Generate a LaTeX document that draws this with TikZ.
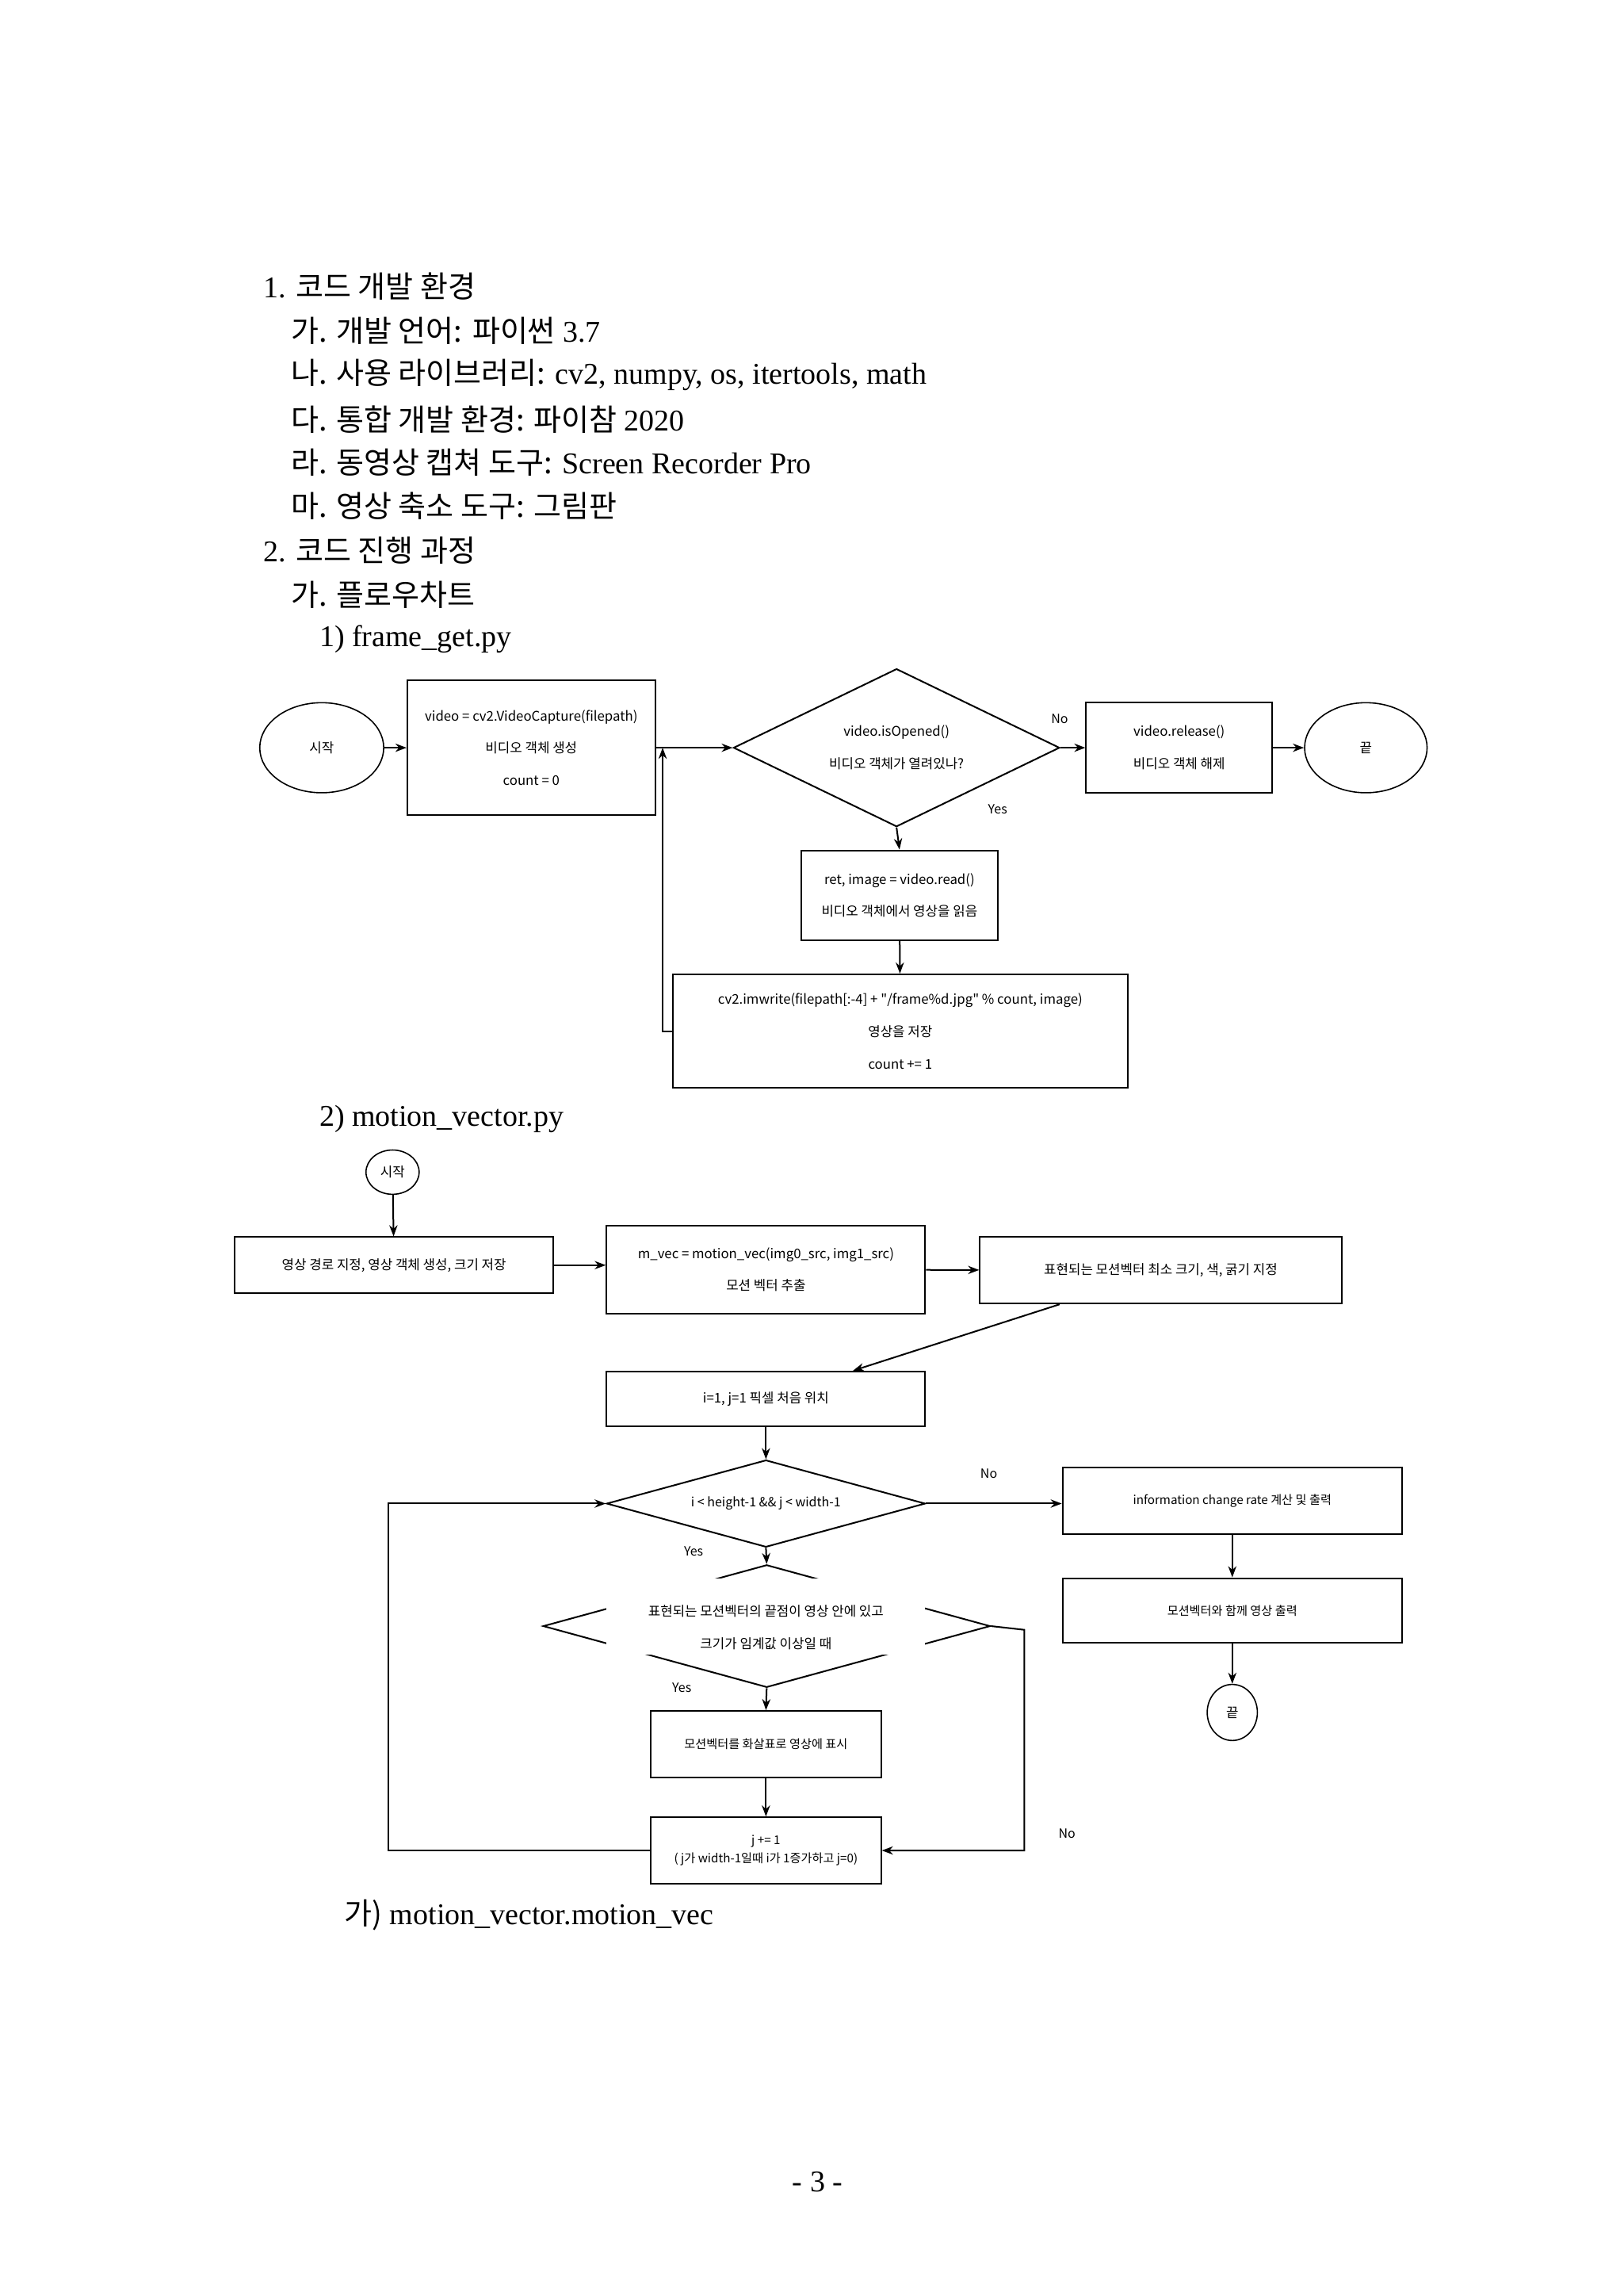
\documentclass[tikz,border=0pt]{standalone}
\usepackage{fontspec}
\setmainfont{Liberation Serif}
\newfontfamily\kr{Noto Sans CJK KR}
\usetikzlibrary{shapes.geometric,arrows.meta,calc}
\begin{document}
\begin{tikzpicture}[x=0.4655pt,y=-0.4655pt,
  body/.style={anchor=west,inner sep=0,font=\fontsize{9.5}{12}\selectfont},
  box/.style={draw,line width=0.5pt,inner sep=0,align=center,font=\kr\fontsize{4.2}{10.2}\selectfont},
  dia/.style={draw,diamond,line width=0.5pt,inner sep=0},
  ell/.style={draw,ellipse,line width=0.4pt,inner sep=0,font=\kr\fontsize{4.2}{6}\selectfont},
  txt/.style={inner sep=0,align=center,font=\kr\fontsize{4.2}{10.2}\selectfont},
  lab/.style={inner sep=0,font=\fontsize{4}{5}\selectfont\kr},
  arr/.style={-{Stealth[length=3.5pt,width=2.6pt]},line width=0.5pt}]
\useasboundingbox (0,0) rectangle (1100,1555.3);
% body text
\node[body] (t1) at (178,194) {1. {\kr 코드 개발 환경}};
\node[body] (t2) at (197,224) {{\kr 가. 개발 언어:} {\kr 파이썬} 3.7};
\node[body] (t3) at (197,254) {{\kr 나. 사용 라이브러리:} cv2, numpy, os, itertools, math};
\node[body] (t4) at (197,284) {{\kr 다. 통합 개발 환경: 파이참} 2020};
\node[body] (t5) at (197,313) {{\kr 라. 동영상 캡쳐 도구:} Screen Recorder Pro};
\node[body] (t6) at (197,343) {{\kr 마. 영상 축소 도구: 그림판}};
\node[body] (t7) at (178,373) {2. {\kr 코드 진행 과정}};
\node[body] (t8) at (197,403) {{\kr 가. 플로우차트}};
\node[body] (t9) at (216,433) {1) frame\_get.py};
\node[body] (t10) at (216,758) {2) motion\_vector.py};
\node[body] (t11) at (233,1297) {{\kr 가)} motion\_vector.motion\_vec};
\node[inner sep=0,font=\fontsize{9.5}{12}\selectfont] (pg) at (554,1478) {- 3 -};
% diagram 1
\node[ell,minimum width=84*0.4655pt,minimum height=61*0.4655pt] (s1) at (218,506.5) {시작};
\node[box,minimum width=168*0.4655pt,minimum height=91*0.4655pt] (b1) at (360,506.5) {video = cv2.VideoCapture(filepath)\\비디오 객체 생성\\count = 0};
\node[dia,minimum width=221*0.4655pt,minimum height=107*0.4655pt] (d1) at (607.5,506.5) {};
\node[txt] (d1t) at (607.5,506.5) {video.isOpened()\\비디오 객체가 열려있나?};
\node[box,minimum width=126*0.4655pt,minimum height=61*0.4655pt] (r1) at (799,506.5) {video.release()\\비디오 객체 해제};
\node[ell,minimum width=83*0.4655pt,minimum height=61*0.4655pt] (e1) at (925.5,506.5) {끝};
\node[box,minimum width=133*0.4655pt,minimum height=61*0.4655pt] (rd) at (609.5,606.5) {ret, image = video.read()\\비디오 객체에서 영상을 읽음};
\node[box,minimum width=308*0.4655pt,minimum height=77*0.4655pt] (iw) at (610,698.5) {cv2.imwrite(filepath[:-4] + "/frame\%d.jpg" \% count, image)\\영상을 저장\\count += 1};
\coordinate (j1) at (449,506.5);
\draw[arr] (s1) -- (b1);
\draw[arr] (b1) -- (d1);
\draw[arr] (d1) -- (r1);
\draw[arr] (r1) -- (e1);
\draw[arr] (d1.south) -- (rd.north);
\draw[arr] (rd) -- (iw);
\draw[arr] (iw.west) -| (j1);
\node[lab] (no1) at (718,487) {No};
\node[lab] (yes1) at (676,548) {Yes};
% diagram 2
\node[ell,minimum width=36*0.4655pt,minimum height=30*0.4655pt] (s2) at (266,794) {시작};
\node[box,minimum width=216*0.4655pt,minimum height=38*0.4655pt] (A) at (267,857) {영상 경로 지정, 영상 객체 생성, 크기 저장};
\node[box,minimum width=216*0.4655pt,minimum height=60*0.4655pt] (B) at (519,860) {m\_vec = motion\_vec(img0\_src, img1\_src)\\모션 벡터 추출};
\node[box,minimum width=245*0.4655pt,minimum height=45*0.4655pt] (C) at (786.5,860.5) {표현되는 모션벡터 최소 크기, 색, 굵기 지정};
\node[box,minimum width=216*0.4655pt,minimum height=37*0.4655pt] (D) at (519,947.5) {i=1, j=1 픽셀 처음 위치};
\node[dia,minimum width=216*0.4655pt,minimum height=59*0.4655pt] (E) at (519,1018.5) {};
\node[txt,font=\fontsize{4}{6}\selectfont\kr] (Et) at (519,1018.5) {i < height-1 \&\& j < width-1};
\node[box,minimum width=230*0.4655pt,minimum height=45*0.4655pt,font=\fontsize{3.8}{6}\selectfont\kr] (F) at (835,1016.5) {information change rate 계산 및 출력};
\node[box,minimum width=230*0.4655pt,minimum height=44*0.4655pt,font=\fontsize{3.8}{6}\selectfont\kr] (G) at (835,1091) {모션벡터와 함께 영상 출력};
\node[ell,minimum width=34*0.4655pt,minimum height=38*0.4655pt] (e2) at (835,1160) {끝};
\node[dia,minimum width=303*0.4655pt,minimum height=83*0.4655pt] (H) at (519.5,1101.5) {};
\fill[white] (411,1069) rectangle (627,1121);
\node[txt] (Ht) at (519,1102.5) {표현되는 모션벡터의 끝점이 영상 안에 있고\\크기가 임계값 이상일 때};
\node[box,minimum width=156*0.4655pt,minimum height=45*0.4655pt,font=\fontsize{3.8}{6}\selectfont\kr] (I) at (519,1181.5) {모션벡터를 화살표로 영상에 표시};
\node[box,minimum width=156*0.4655pt,minimum height=45*0.4655pt,font=\fontsize{3.8}{5.6}\selectfont\kr] (J) at (519,1253.5) {j += 1\\( j가 width-1일때 i가 1증가하고 j=0)};
\coordinate (L) at (263,1253.5);
\coordinate (R) at (694,1104);
\draw[arr] (s2) -- (A);
\draw[arr] (A.east) -- (A.east -| B.west);
\draw[arr] (B) -- (C);
\draw[arr] ($(C.south)+(-68.5,0)$) -- ($(D.north)+(59,0)$);
\draw[arr] (D) -- (E);
\draw[arr] (E.east) -- (E.east -| F.west);
\draw[arr] (F) -- (G);
\draw[arr] (G) -- (e2);
\draw[arr] (E.south) -- (H.north);
\draw[arr] (H.south) -- (I.north);
\draw[arr] (I) -- (J);
\draw[arr] (J.west) -- (L) |- (E.west);
\draw[arr] (H.east) -- (R) |- (J.east);
\node[lab] (no2) at (670,998) {No};
\node[lab] (yes2) at (470,1051) {Yes};
\node[lab] (yes3) at (462,1143) {Yes};
\node[lab] (no3) at (723,1242) {No};
\end{tikzpicture}
\end{document}
